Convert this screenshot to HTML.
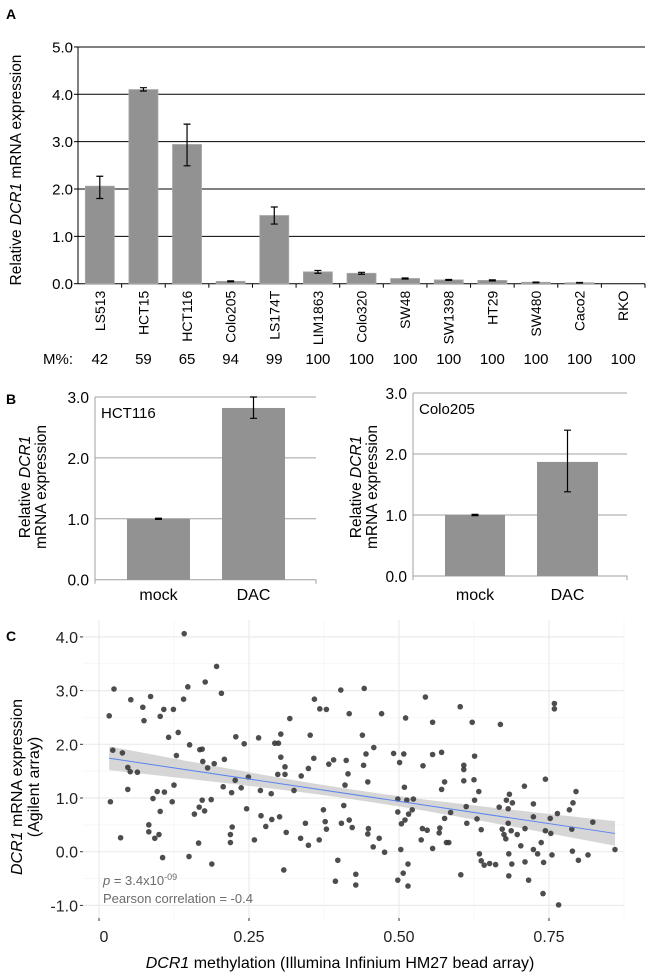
<!DOCTYPE html>
<html><head><meta charset="utf-8"><style>
body{margin:0;background:#fff;width:650px;height:977px;overflow:hidden}
svg{display:block;font-family:"Liberation Sans",Arial,sans-serif}
</style></head><body>
<svg id="fig" width="650" height="977" viewBox="0 0 650 977">
<text x="6" y="19" font-size="14" font-weight="bold">A</text>
<text x="6" y="404" font-size="14" font-weight="bold">B</text>
<text x="6" y="641" font-size="14" font-weight="bold">C</text>
<g id="pa"></g>
<g id="pb1"></g>
<g id="pb2"></g>
<g id="pc"></g>
</svg>
<script>
const aCats=["LS513","HCT15","HCT116","Colo205","LS174T","LIM1863","Colo320","SW48","SW1398","HT29","SW480","Caco2","RKO"];
const aVals=[2.06,4.10,2.94,0.05,1.44,0.25,0.22,0.11,0.08,0.07,0.03,0.02,0.0];
const aErrLo=[1.80,4.07,2.49,0.04,1.26,0.22,0.20,0.10,0.07,0.06,0.02,0.015,0];
const aErrHi=[2.27,4.14,3.37,0.06,1.62,0.28,0.24,0.12,0.09,0.08,0.035,0.025,0];
const aMeth=["42","59","65","94","99","100","100","100","100","100","100","100","100"];
const aTicks=[0,1,2,3,4,5];
const bCats=["mock","DAC"];
const b1Vals=[1.0,2.82];
const b1ErrLo=[0.99,2.65];
const b1ErrHi=[1.01,3.0];
const b2Vals=[1.0,1.87];
const b2ErrLo=[0.99,1.38];
const b2ErrHi=[1.01,2.39];
const bTicks=[0,1,2,3];
const cX=[0.017,0.019,0.025,0.023,0.039,0.036,0.048,0.052,0.048,0.053,0.064,0.073,0.075,0.083,0.083,0.086,0.090,0.093,0.097,0.100,0.102,0.102,0.106,0.109,0.108,0.116,0.122,0.124,0.125,0.129,0.132,0.141,0.148,0.151,0.150,0.159,0.166,0.167,0.168,0.172,0.173,0.172,0.176,0.177,0.181,0.187,0.188,0.192,0.196,0.204,0.207,0.209,0.219,0.219,0.221,0.222,0.227,0.228,0.237,0.242,0.246,0.249,0.259,0.266,0.269,0.270,0.278,0.287,0.288,0.293,0.298,0.299,0.301,0.303,0.303,0.308,0.310,0.310,0.312,0.318,0.325,0.336,0.337,0.344,0.349,0.349,0.352,0.358,0.359,0.367,0.368,0.374,0.377,0.379,0.379,0.383,0.391,0.394,0.398,0.403,0.404,0.408,0.410,0.412,0.415,0.417,0.417,0.422,0.428,0.428,
0.442,0.471,0.439,0.445,0.458,0.441,0.448,0.449,0.448,0.457,0.467,0.476,0.491,0.501,0.498,0.498,0.504,0.503,0.510,0.507,0.498,0.515,0.515,0.511,0.508,0.509,0.513,0.516,0.522,0.524,0.537,0.539,0.540,0.544,0.547,0.556,0.556,0.556,0.567,0.568,0.571,0.571,0.576,0.576,0.579,0.583,0.586,0.603,0.602,0.608,0.608,0.608,0.612,0.613,0.622,0.626,0.625,0.626,0.630,0.633,0.634,0.637,0.637,0.642,0.651,0.661,0.669,0.667,0.672,0.675,0.678,0.679,0.682,0.682,0.684,0.683,0.683,0.687,0.689,0.688,0.697,0.703,0.709,0.710,0.710,0.716,0.724,0.724,0.724,0.731,0.737,0.741,0.740,0.744,0.744,0.752,0.753,0.755,0.759,0.759,0.764,0.766,0.784,0.788,0.790,0.789,0.795,0.799,0.815,0.823,0.860,0.142];
const cY=[2.53,0.93,3.03,1.89,1.84,0.26,1.57,1.49,1.16,2.83,1.48,2.69,2.44,0.50,0.37,2.89,0.99,0.25,1.12,0.32,2.52,0.75,-0.11,1.11,2.65,2.13,0.93,2.65,1.24,1.79,2.22,2.84,3.07,1.99,-0.09,0.70,0.16,0.83,1.90,1.91,1.68,0.96,0.76,3.16,1.56,0.97,-0.23,1.64,3.45,2.95,1.21,1.72,0.17,0.32,1.10,0.46,1.33,2.14,1.19,2.01,0.80,1.39,0.22,2.12,1.14,0.67,0.47,1.08,0.60,2.02,1.44,2.02,0.65,1.76,2.19,-0.34,1.58,1.44,0.36,2.48,1.14,0.25,1.41,0.53,0.12,1.55,2.17,1.74,2.84,0.22,2.66,0.78,0.56,2.65,0.42,1.63,1.71,-0.55,-0.16,3.01,0.53,0.86,1.24,1.70,1.45,2.57,0.59,0.45,-0.42,-0.62,
3.04,2.57,2.17,1.82,1.94,1.61,1.30,0.43,0.33,0.09,0.25,-0.01,1.83,1.66,0.98,0.74,0.52,0.04,0.59,-0.40,-0.53,-0.23,-0.64,2.49,1.82,1.20,0.96,0.70,0.78,0.98,0.22,0.43,1.60,2.88,0.40,2.41,1.81,0.06,0.35,0.44,1.85,1.16,1.30,0.62,0.17,0.17,0.73,-0.43,2.70,1.61,1.53,1.32,0.84,0.53,2.41,1.78,1.34,0.96,0.61,1.12,-0.04,0.41,-0.17,-0.25,-0.22,-0.24,2.37,0.83,0.42,0.32,0.24,0.96,0.80,0.53,1.07,-0.04,-0.45,0.39,0.91,-0.23,0.32,0.11,1.22,0.43,-0.19,-0.53,0.89,0.65,0.04,-0.04,0.17,-0.20,-0.78,1.35,0.39,0.62,0.34,-0.06,2.76,2.66,0.71,-0.99,0.78,0.42,0.91,0.01,1.12,-0.16,-0.06,0.55,0.04,4.06];
const cXTicks=["0","0.25","0.50","0.75"];
const cXTickVals=[0,0.25,0.5,0.75];
const cYTicks=[-1,0,1,2,3,4];
const fitStart=[0.017,1.74];
const fitEnd=[0.86,0.34];

const NS="http://www.w3.org/2000/svg";
function mk(parent,tag,attrs,text){const e=document.createElementNS(NS,tag);for(const k in attrs)e.setAttribute(k,attrs[k]);if(text!==undefined)e.textContent=text;parent.appendChild(e);return e;}

// Panel A
(function(){
const g=document.getElementById('pa');
const x0=78,x1=645,y0=283.7,pu=47.35;
const band=(x1-x0)/aCats.length;
const ys=v=>y0-v*pu;
aTicks.forEach(t=>{
 const l=mk(g,'line',{x1:x0,x2:x1,y1:ys(t),y2:ys(t),stroke:'#000','stroke-width':1});
 
 
 const tk=mk(g,'line',{x1:x0-4,x2:x0,y1:ys(t),y2:ys(t),stroke:'#000'});
 
 
 const tx=mk(g,'text',{x:x0-5,y:ys(t)+5.5,'font-size':15,'text-anchor':'end'},t.toFixed(1));
 
 
});
const ax=mk(g,'line',{x1:x0,x2:x0,y1:ys(5),y2:y0,stroke:'#000'});


const t=mk(g,'text',{transform:`translate(21,170) rotate(-90)`,'font-size':15.5,'text-anchor':'middle'});


mk(t,'tspan',{},'Relative ');mk(t,'tspan',{'font-style':'italic'},'DCR1');mk(t,'tspan',{},' mRNA expression');
const m=mk(g,'text',{x:58,y:364,'font-size':15,'text-anchor':'middle'},'M%:');


aCats.forEach((c,i)=>{
 const cx=x0+band*(i+0.5);
 const bw=29;
 const r=mk(g,'rect',{x:cx-bw/2,y:ys(aVals[i]),width:bw,height:aVals[i]*pu,fill:'#929292',stroke:'#a8a8a8','stroke-width':0.8});
 
 
 if(aErrHi[i]>0){
  const e=mk(g,'path',{d:`M${cx} ${ys(aErrHi[i])}V${ys(aErrLo[i])}M${cx-3.5} ${ys(aErrHi[i])}H${cx+3.5}M${cx-3.5} ${ys(aErrLo[i])}H${cx+3.5}`,stroke:'#000','stroke-width':1.2,fill:'none'});
  
  
 }
 const tk=mk(g,'line',{x1:x0+band*(i+1),x2:x0+band*(i+1),y1:y0,y2:y0+4,stroke:'#000'});
 
 
 const lb=mk(g,'text',{transform:`translate(${cx+5},${y0+7}) rotate(-90)`,'font-size':14,'text-anchor':'end'},c);
 
 
 const mv=mk(g,'text',{x:cx,y:364,'font-size':15,'text-anchor':'middle'},aMeth[i]);
 
 
});
})();

// Panel B
function panelB(id,x0,x1,y0,top,bars,vals,lo,hi,title,titleX,titleY,ytx){
const g=document.getElementById(id);
const pu=(y0-top)/3;const ys=v=>y0-v*pu;
bTicks.forEach(t=>{
 if(t>0){const l=mk(g,'line',{x1:x0,x2:x1,y1:ys(t),y2:ys(t),stroke:'#a0a0a0'});
 
 }
 const tx=mk(g,'text',{x:x0-6,y:ys(t)+6,'font-size':15.5,'text-anchor':'end'},t.toFixed(1));
 
 
});
const ax=mk(g,'path',{d:`M${x0} ${ys(3)}V${y0+4}M${x0} ${y0}H${x1}V${y0+4}`,stroke:'#a0a0a0',fill:'none'});


const tt=mk(g,'text',{x:titleX,y:titleY,'font-size':15},title);


const yt=mk(g,'text',{transform:`translate(${ytx},487) rotate(-90)`,'font-size':15.5,'text-anchor':'middle'});


mk(yt,'tspan',{x:0,dy:0},'Relative ');mk(yt,'tspan',{'font-style':'italic'},'DCR1');
mk(yt,'tspan',{x:0,dy:16},'mRNA expression');
bars.forEach((b,i)=>{
 const r=mk(g,'rect',{x:b[0],y:ys(vals[i]),width:b[1]-b[0],height:vals[i]*pu,fill:'#929292'});
 
 
 const cx=(b[0]+b[1])/2;
 const e=mk(g,'path',{d:`M${cx} ${ys(hi[i])}V${ys(lo[i])}M${cx-3.5} ${ys(hi[i])}H${cx+3.5}M${cx-3.5} ${ys(lo[i])}H${cx+3.5}`,stroke:'#000','stroke-width':1.2,fill:'none'});
 
 
 const lb=mk(g,'text',{x:cx,y:600,'font-size':16,'text-anchor':'middle'},bCats[i]);
 
 
});
}
panelB('pb1',95,316,579.7,397,[[127,190],[222,285]],b1Vals,b1ErrLo,b1ErrHi,'HCT116',101,418,30);
panelB('pb2',413,627,576,393,[[445,505],[537,598]],b2Vals,b2ErrLo,b2ErrHi,'Colo205',419,414,361);

// Panel C
(function(){
const g=document.getElementById('pc');
const L=83,R=624,T=620,B=918;
const xs=v=>99+v*600, ys=v=>851.7-v*53.7;
const bg=mk(g,'rect',{x:L,y:T,width:R-L,height:B-T,fill:'#fff'});


for(let v=-1;v<=4;v+=0.5){const l=mk(g,'line',{x1:L,x2:R,y1:ys(v),y2:ys(v),stroke:Number.isInteger(v)?'#ebebeb':'#f4f4f4','stroke-width':Number.isInteger(v)?1.2:0.7});
 
 }
for(let v=0;v<=0.875;v+=0.125){const major=Math.abs(v/0.25-Math.round(v/0.25))<1e-6;const l=mk(g,'line',{x1:xs(v),x2:xs(v),y1:T,y2:B,stroke:major?'#ebebeb':'#f4f4f4','stroke-width':major?1.2:0.7});
 
 }
cYTicks.forEach(t=>{
 const tk=mk(g,'line',{x1:L-3,x2:L,y1:ys(t),y2:ys(t),stroke:'#333'});
 
 
 const tx=mk(g,'text',{x:L-5,y:ys(t)+6,'font-size':16,'text-anchor':'end',fill:'#222'},t.toFixed(1));
 
 
});
cXTicks.forEach((t,i)=>{
 const tk=mk(g,'line',{x1:xs(cXTickVals[i]),x2:xs(cXTickVals[i]),y1:B,y2:B+3,stroke:'#333'});
 
 
 const tx=mk(g,'text',{x:xs(cXTickVals[i])+(i==0?5:0),y:942,'font-size':16,'text-anchor':'middle',fill:'#222'},t);
 
 
});
const slope=(fitEnd[1]-fitStart[1])/(fitEnd[0]-fitStart[0]);
const fit=x=>fitStart[1]+slope*(x-fitStart[0]);
const se=x=>Math.sqrt(0.0081+0.24*(x-0.43)*(x-0.43));
let up=[],dn=[];
for(let i=0;i<=40;i++){const x=fitStart[0]+(fitEnd[0]-fitStart[0])*i/40;up.push(xs(x)+','+ys(fit(x)+se(x)));dn.unshift(xs(x)+','+ys(fit(x)-se(x)));}
const band=mk(g,'polygon',{points:up.concat(dn).join(' '),fill:'#c8c8c8','fill-opacity':0.75});


cX.forEach((x,i)=>{
 const c=mk(g,'circle',{cx:xs(x),cy:ys(cY[i]),r:2.8,fill:'#3a3a3a','fill-opacity':0.9});
 
 
});
const fl=mk(g,'line',{x1:xs(fitStart[0]),y1:ys(fitStart[1]),x2:xs(fitEnd[0]),y2:ys(fitEnd[1]),stroke:'#5b84f0','stroke-width':1});


const p=mk(g,'text',{x:103,y:885,'font-size':13,fill:'#6b6b6b'});


mk(p,'tspan',{'font-style':'italic'},'p');mk(p,'tspan',{},' = 3.4x10');mk(p,'tspan',{dy:-5,'font-size':9},'-09');
const pc=mk(g,'text',{x:103,y:903,'font-size':13,fill:'#6b6b6b'},'Pearson correlation =  -0.4');


const yt=mk(g,'text',{transform:`translate(22,787) rotate(-90)`,'font-size':16,'text-anchor':'middle'});


mk(yt,'tspan',{x:0,dy:0,'font-style':'italic'},'DCR1');mk(yt,'tspan',{},' mRNA expression');
mk(yt,'tspan',{x:0,dy:17},'(Agilent array)');
const xt=mk(g,'text',{x:340,y:968,'font-size':16,'text-anchor':'middle'});


mk(xt,'tspan',{'font-style':'italic'},'DCR1');mk(xt,'tspan',{},' methylation (Illumina Infinium HM27 bead array)');
})();
</script>
</body></html>
